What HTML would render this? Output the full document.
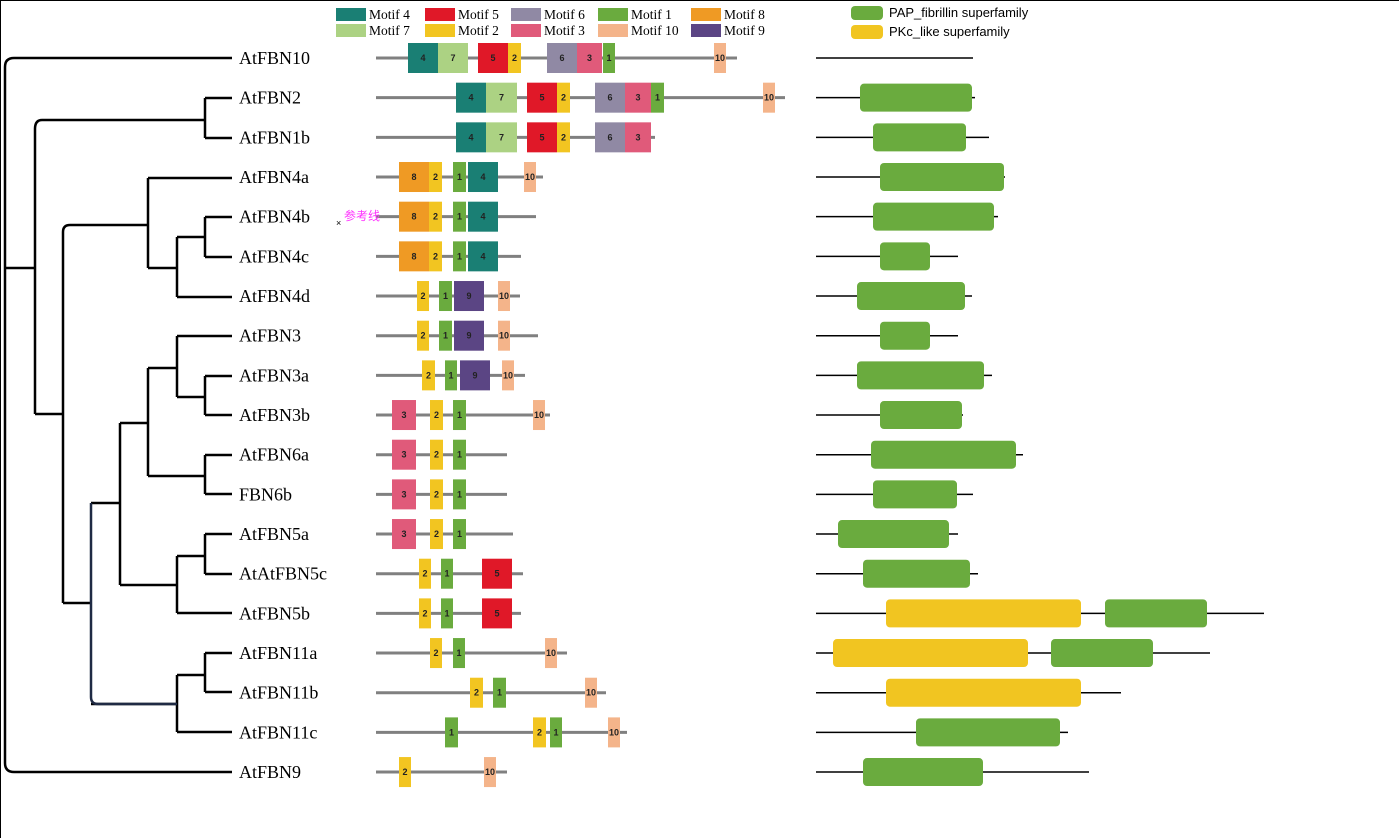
<!DOCTYPE html>
<html><head><meta charset="utf-8"><style>
body{margin:0;background:#fff;}
svg{display:block;font-family:"Liberation Serif",serif;}
</style></head><body>
<svg id="fig" width="1399" height="838" viewBox="0 0 1399 838">
<line x1="0" y1="0.5" x2="1399" y2="0.5" stroke="#000"/>
<line x1="0.5" y1="0" x2="0.5" y2="838" stroke="#000"/>
<g id="tree" fill="none" stroke="#000" stroke-width="2.5"></g>
<g id="labels"></g>
<g id="motifs"></g>
<g id="domains"></g>
<g id="legend"></g>
<g id="dlegend"></g>
<text x="344" y="220" font-family="Liberation Sans,'Noto Sans CJK SC',sans-serif" font-size="12" fill="#ff33ff">参考线</text>
<text x="336" y="226" font-family="Liberation Sans,sans-serif" font-size="9" fill="#000">×</text>
</svg>
<script>
const genes=["AtFBN10","AtFBN2","AtFBN1b","AtFBN4a","AtFBN4b","AtFBN4c","AtFBN4d","AtFBN3","AtFBN3a","AtFBN3b","AtFBN6a","FBN6b","AtFBN5a","AtAtFBN5c","AtFBN5b","AtFBN11a","AtFBN11b","AtFBN11c","AtFBN9"];
const motifLineEnd=[737,785,655,543,536,521,520,538,525,550,507,507,513,523,521,567,606,627,507];
const motifData=[
[[4,408,30],[7,438,30],[5,478,30],[2,508,13],[6,547,30],[3,577,25],[1,603,12],[10,714,12]],
[[4,456,30],[7,486,31],[5,527,30],[2,557,13],[6,595,30],[3,625,26],[1,651,13],[10,763,12]],
[[4,456,30],[7,486,31],[5,527,30],[2,557,13],[6,595,30],[3,625,26]],
[[8,399,30],[2,429,13],[1,453,13],[4,468,30],[10,524,12]],
[[8,399,30],[2,429,13],[1,453,13],[4,468,30]],
[[8,399,30],[2,429,13],[1,453,13],[4,468,30]],
[[2,417,12],[1,439,13],[9,454,30],[10,498,12]],
[[2,417,12],[1,439,13],[9,454,30],[10,498,12]],
[[2,422,13],[1,445,12],[9,460,30],[10,502,12]],
[[3,392,24],[2,430,13],[1,453,13],[10,533,12]],
[[3,392,24],[2,430,13],[1,453,13]],
[[3,392,24],[2,430,13],[1,453,13]],
[[3,392,24],[2,430,13],[1,453,13]],
[[2,419,12],[1,441,12],[5,482,30]],
[[2,419,12],[1,441,12],[5,482,30]],
[[2,430,12],[1,453,12],[10,545,12]],
[[2,470,13],[1,493,13],[10,585,12]],
[[1,445,13],[2,533,13],[1,550,12],[10,608,12]],
[[2,399,12],[10,484,12]]];
const domainLineEnd=[973,975,989,1005,998,958,972,958,992,963,1023,973,958,978,1264,1210,1121,1068,1089];
const domainData=[[],[["g",860,972]],[["g",873,966]],[["g",880,1004]],[["g",873,994]],[["g",880,930]],[["g",857,965]],[["g",880,930]],[["g",857,984]],[["g",880,962]],[["g",871,1016]],[["g",873,957]],[["g",838,949]],[["g",863,970]],[["y",886,1081],["g",1105,1207]],[["y",833,1028],["g",1051,1153]],[["y",886,1081]],[["g",916,1060]],[["g",863,983]]];
const motifColors={1:"#6aab3e",2:"#f2c521",3:"#e05a7a",4:"#1a7f74",5:"#e01828",6:"#9089a4",7:"#acd283",8:"#ef9a24",9:"#5b4584",10:"#f4b48a"};
const legendOrder=[[4,7],[5,2],[6,3],[1,10],[8,9]];
const legendX=[336,425,511,598,691];
const NS="http://www.w3.org/2000/svg";
function mk(tag,attrs,parent){const e=document.createElementNS(NS,tag);for(const k in attrs)e.setAttribute(k,attrs[k]);parent.appendChild(e);return e;}
const rowY=i=>58+39.67*i;
// tree
const tree=document.getElementById('tree');
const paths=[
"M232 58 H14 Q5 58 5 67 V763 Q5 772 14 772 H232",
"M5 268 H35","M35 414 V129 Q35 120 42 120 H205","M205 98 V138","M205 98 H232","M205 138 H232",
"M35 414 H63","M63 603 V232 Q63 225 70 225 H148","M148 178 V268","M148 178 H232","M148 268 H177",
"M177 237 V297","M177 237 H205","M177 297 H232","M205 217 V257","M205 217 H232","M205 257 H232",
"M63 603 H91","M91 503 H120","M120 423 V585","M120 423 H148","M148 368 V476","M148 368 H177","M177 336 V397","M177 336 H232","M177 397 H205","M205 376 V415","M205 376 H232","M205 415 H232",
"M148 476 H205","M205 455 V494","M205 455 H232","M205 494 H232",
"M120 585 H177","M177 556 V613","M177 556 H205","M177 613 H232","M205 534 V574","M205 534 H232","M205 574 H232",
"M177 704 H91","M177 675 V732","M177 675 H205","M177 732 H232","M205 653 V692","M205 653 H232","M205 692 H232"];
paths.forEach(d=>{const p=mk('path',{d:d},tree);});
const nv=mk('path',{d:"M91 503 V697 Q91 704 98 704 H177",stroke:"#1f2a44"},tree);

const labels=document.getElementById('labels'),motifs=document.getElementById('motifs'),domains=document.getElementById('domains');
genes.forEach((g,i)=>{
  const y=rowY(i);
  const t=mk('text',{x:239,y:y+6,'font-size':18,fill:'#000'},labels);t.textContent=g;
  
  const ln=mk('line',{x1:376,y1:y,x2:motifLineEnd[i],y2:y,stroke:'#808080','stroke-width':3},motifs);
  
  motifData[i].forEach(m=>{
    const r=mk('rect',{x:m[1],y:y-15,width:m[2],height:30,fill:motifColors[m[0]]},motifs);
    
    const tt=mk('text',{x:m[1]+m[2]/2,y:y+3,'font-size':9,'font-family':'Liberation Sans,sans-serif','font-weight':'bold','text-anchor':'middle',fill:'#222'},motifs);tt.textContent=m[0];
    
  });
  const dl=mk('line',{x1:816,y1:y,x2:domainLineEnd[i],y2:y,stroke:'#000','stroke-width':1.5},domains);
  
  domainData[i].forEach(d=>{
    const r=mk('rect',{x:d[1],y:y-14,width:d[2]-d[1],height:28,rx:4,fill:d[0]=='g'?'#6aab3e':'#f1c521'},domains);
    
  });
});
const lg=document.getElementById('legend');
legendOrder.forEach((pair,c)=>{pair.forEach((m,r)=>{
  const y=r?24:8;
  const s=mk('rect',{x:legendX[c],y:y,width:30,height:13,fill:motifColors[m]},lg);
  
  const t=mk('text',{x:legendX[c]+33,y:y+11,'font-size':13.5,fill:'#000'},lg);t.textContent='Motif '+m;
  
});});
const dlg=document.getElementById('dlegend');
[["#6aab3e","PAP_fibrillin superfamily",6],["#f1c521","PKc_like superfamily",25]].forEach(e=>{
  const r=mk('rect',{x:851,y:e[2],width:32,height:14,rx:4,fill:e[0]},dlg);
  
  const t=mk('text',{x:889,y:e[2]+11,'font-size':13,'font-family':'Liberation Sans,sans-serif',fill:'#000'},dlg);t.textContent=e[1];
  
});
</script>
</body></html>
